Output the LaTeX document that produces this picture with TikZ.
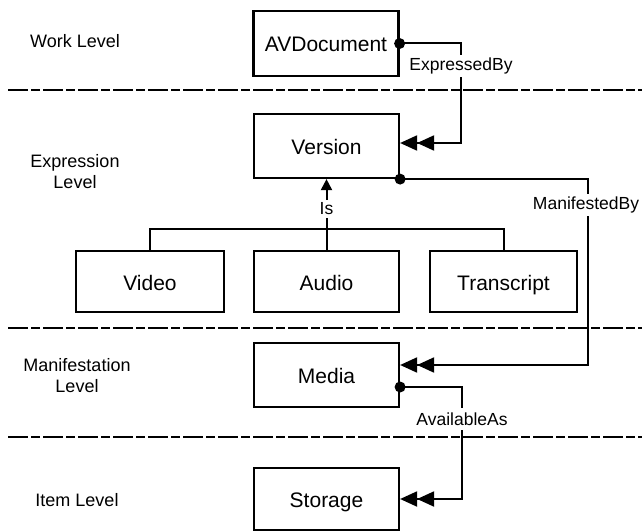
\documentclass[tikz,border=0pt]{standalone}
\usepackage{fontspec}
\setmainfont{Liberation Sans}
\usetikzlibrary{arrows.meta,calc}
\tikzset{
  box/.style={draw, line width=2.2pt, minimum width=145pt, minimum height=64pt, inner sep=0pt, text height=21pt, text depth=4pt, font=\fontsize{21}{24}\selectfont},
  lvl/.style={align=center, font=\fontsize{18}{21}\selectfont},
  lbl/.style={fill=white, inner xsep=1pt, inner ysep=2.5pt, font=\fontsize{17.5}{20}\selectfont},
  conn/.style={line width=2pt},
  dbl/.style={conn, -{Triangle[length=17pt,width=15pt,sep=0pt]Triangle[length=17pt,width=15pt,sep=0pt]}},
  sepline/.style={line width=2pt, dash pattern=on 20pt off 3pt on 9pt off 3pt},
}
\begin{document}
\begin{tikzpicture}[x=1pt,y=-1pt]
\path[use as bounding box, fill=white] (0,0) rectangle (642,532);
% level separators
\draw[sepline] (8,90) -- (642,90);
\draw[sepline] (8,328) -- (642,328);
\draw[sepline] (8,437) -- (642,437);
% level labels
\node[lvl] (wl) at (75,41) {Work Level};
\node[lvl] (el) at (75,172) {Expression\\Level};
\node[lvl] (ml) at (77,376) {Manifestation\\Level};
\node[lvl] (il) at (77,500) {Item Level};
% boxes
\node[box, minimum height=65pt] (avdoc) at (326,43.5) {AVDocument};
\node[box] (version) at (326.5,146) {Version};
\node[box, minimum width=148pt, minimum height=61pt] (video) at (150,281.5) {Video};
\node[box, minimum height=61pt] (audio) at (326.5,281.5) {Audio};
\node[box, minimum width=147pt, minimum height=61pt] (transcript) at (503.5,281.5) {Transcript};
\node[box] (media) at (326.5,375) {Media};
\node[box, minimum height=62pt] (storage) at (326.5,499) {Storage};
% connectors
\draw[dbl] (avdoc.east) -- ++(61,0) |- ($(version.east)+(0,3pt)$);
\fill (avdoc.east) circle (5.5pt);
\draw[dbl] (version.south east) -- ++(188,0) |- ($(media.east)+(0,10pt)$);
\fill (version.south east) circle (5.5pt);
\draw[dbl] ($(media.east)+(0,-12pt)$) -- ++(62,0) |- (storage.east);
\fill ($(media.east)+(0,-12pt)$) circle (5.5pt);
% specialisation
\draw[conn] (video.north) -- ++(0,-21) -| (transcript.north);
\draw[conn, -{Triangle[length=11pt,width=11pt]}] (audio.north) -- (version.south);
% connector labels
\node[lbl] (lexp) at (461,66) {ExpressedBy};
\node[lbl] (lman) at (586,205) {ManifestedBy};
\node[lbl] (lis) at (326.5,209) {Is};
\node[lbl, inner ysep=5pt] (lavl) at (462,419) {AvailableAs};
\end{tikzpicture}
\end{document}
